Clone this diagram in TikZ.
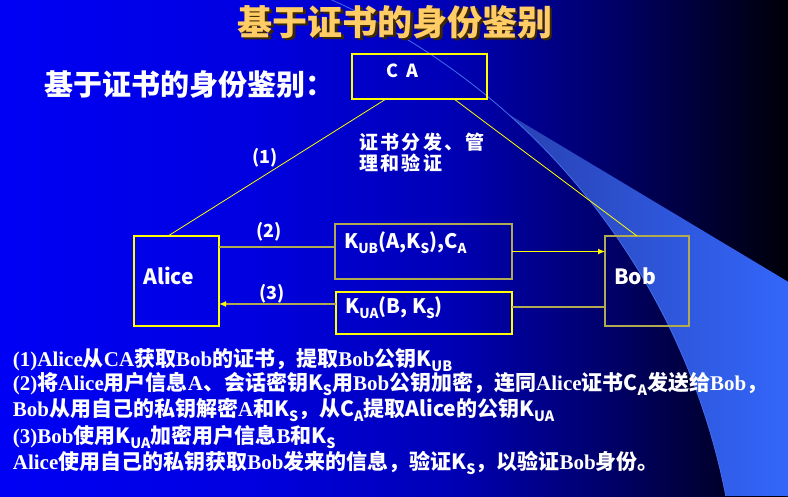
\documentclass[tikz,border=0pt]{standalone}
\usepackage{fontspec}
\usepackage{graphicx}
\setmainfont{Noto Sans CJK SC}
\newfontfamily\serifb{Liberation Serif}
\newfontfamily\cjksp{Noto Sans CJK SC}[LetterSpace=12]
\usetikzlibrary{arrows.meta}

\definecolor{titleor}{RGB}{255,204,102}
\definecolor{shadowc}{RGB}{60,40,0}
\definecolor{ylw}{RGB}{255,255,0}
\definecolor{olv}{RGB}{176,170,80}
\definecolor{wedgeA}{RGB}{40,64,175}
\definecolor{wedgeB}{RGB}{51,102,250}
\definecolor{arcblue}{RGB}{70,110,235}

\pgfdeclarehorizontalshading{bgshade}{100bp}{rgb(0bp)=(0,0,0.96); rgb(25bp)=(0,0,0.96); rgb(40.86bp)=(0,0,0.88); rgb(53.55bp)=(0,0,0.71); rgb(63.07bp)=(0,0,0.43); rgb(69.42bp)=(0,0,0.22); rgb(75bp)=(0,0,0.03); rgb(100bp)=(0,0,0.03)}

\newcommand\lsub[1]{\raisebox{-0.25em}{\scalebox{0.68}{#1}}}
\newcommand\se[1]{{\serifb\bfseries #1}}

\tikzset{
  boxy/.style={draw=ylw, line width=1.2pt, inner sep=0pt, outer sep=0pt},
  boxo/.style={draw=olv, line width=1.2pt, inner sep=0pt, outer sep=0pt},
  thinl/.style={draw=ylw, line width=0.8pt},
  conny/.style={draw=ylw, line width=1.1pt},
  conno/.style={draw=olv, line width=1.3pt},
  tip/.style={-{Latex[length=7pt,width=6pt]}},
  wtxt/.style={text=white, inner sep=0pt, font=\bfseries\fontsize{#1}{#1}\selectfont},
  wtxt/.default=21,
}

\begin{document}
\begin{tikzpicture}[x=1pt,y=-1pt]
\useasboundingbox (0,0) rectangle (788,496);
\shade[shading=bgshade] (0,0) rectangle (788,496);

% decorative wedge
\begin{scope}
\clip (508.3,114.1) -- (788,281.7) -- (788,496) -- (725.8,495.8) arc[start angle=-11.06, end angle=-48.3, radius=688] -- cycle;
\shade[left color=wedgeA, right color=wedgeB] (500,110) rectangle (788,496);
\end{scope}
\draw[arcblue, line width=0.8pt] (330.4,-0.7) arc[start angle=-66, end angle=-11.06, radius=688];

% titles
\node[wtxt=35, text=shadowc] (titles) at (397.5,24.5) {基于证书的身份鉴别};
\node[wtxt=35, text=titleor] (title) at (395,22) {基于证书的身份鉴别};
\node[wtxt=29, anchor=west] (sub) at (44,85) {基于证书的身份鉴别：};

% boxes
\node[boxy, minimum width=135, minimum height=45] (ca) at (419.5,76.5) {};
\node[boxy, minimum width=85, minimum height=90] (alice) at (176.5,281) {};
\node[boxo, minimum width=84, minimum height=90] (bob) at (647,281) {};
\node[boxo, minimum width=177, minimum height=55] (box1) at (423.5,251.5) {};
\node[boxy, minimum width=176, minimum height=42] (box2) at (424,313) {};

% texts in boxes
\node[wtxt=18] (catext) at (402,71) {C\hspace{8pt}A};
\node[wtxt=21, anchor=west] (alicet) at (143,276) {Alice};
\node[wtxt=21, anchor=west] (bobt) at (614,276) {Bob};
\node[wtxt=20, anchor=west] (m1) at (344,243) {K\lsub{UB}(A,K\lsub{S}),C\lsub{A}};
\node[wtxt=20, anchor=west] (m2) at (345,308) {K\lsub{UA}(B, K\lsub{S})};

% labels
\node[wtxt=18] (l1) at (265,158) {(1)};
\node[wtxt=18] (l2t) at (269,232) {(2)};
\node[wtxt=18] (l3t) at (272,294) {(3)};
\node[wtxt=19, anchor=west, font=\cjksp\bfseries\fontsize{19}{19}\selectfont] (cert1) at (359,142) {证书分发、管};
\node[wtxt=19, anchor=west, font=\cjksp\bfseries\fontsize{19}{19}\selectfont] (cert2) at (359,163.5) {理和验证};

% connectors
\draw[thinl] ([xshift=-33.5pt]ca.south) -- ([xshift=-8.5pt]alice.north);
\draw[thinl] ([xshift=34.5pt]ca.south) -- ([xshift=-10pt]bob.north);
\coordinate (c2) at ([yshift=4.5pt]box1.west);
\draw[conno] (c2) -- (alice.east |- c2);
\draw[conny, tip] (box1.east) -- (bob.west |- box1.east);
\coordinate (c4) at ([yshift=6pt]box2.east);
\draw[conno] (c4) -- (bob.west |- c4);
\coordinate (c3) at ([yshift=9pt]box2.west);
\draw[conno, -{Latex[length=7pt,width=6pt,color=ylw,fill=ylw]}] (c3) -- (alice.east |- c3);

% bottom explanation
\node[wtxt, anchor=base west] (e1) at (12.7,366) {\se{(1)Alice}从\se{CA}获取\se{Bob}的证书，提取\se{Bob}公钥K\lsub{UB}};
\node[wtxt, anchor=base west] (e2) at (12.7,390) {\se{(2)}将\se{Alice}用户信息\se{A}、会话密钥K\lsub{S}用\se{Bob}公钥加密，连同\se{Alice}证书C\lsub{A}发送给\se{Bob}，};
\node[wtxt, anchor=base west] (e3) at (12.7,416) {\se{Bob}从用自己的私钥解密\se{A}和K\lsub{S}，从C\lsub{A}提取Alice的公钥K\lsub{UA}};
\node[wtxt, anchor=base west] (e4) at (12.7,443.5) {\se{(3)Bob}使用K\lsub{UA}加密用户信息\se{B}和K\lsub{S}};
\node[wtxt, anchor=base west] (e5) at (12.7,469) {\se{Alice}使用自己的私钥获取\se{Bob}发来的信息，验证K\lsub{S}，以验证\se{Bob}身份。};
\end{tikzpicture}
\end{document}
